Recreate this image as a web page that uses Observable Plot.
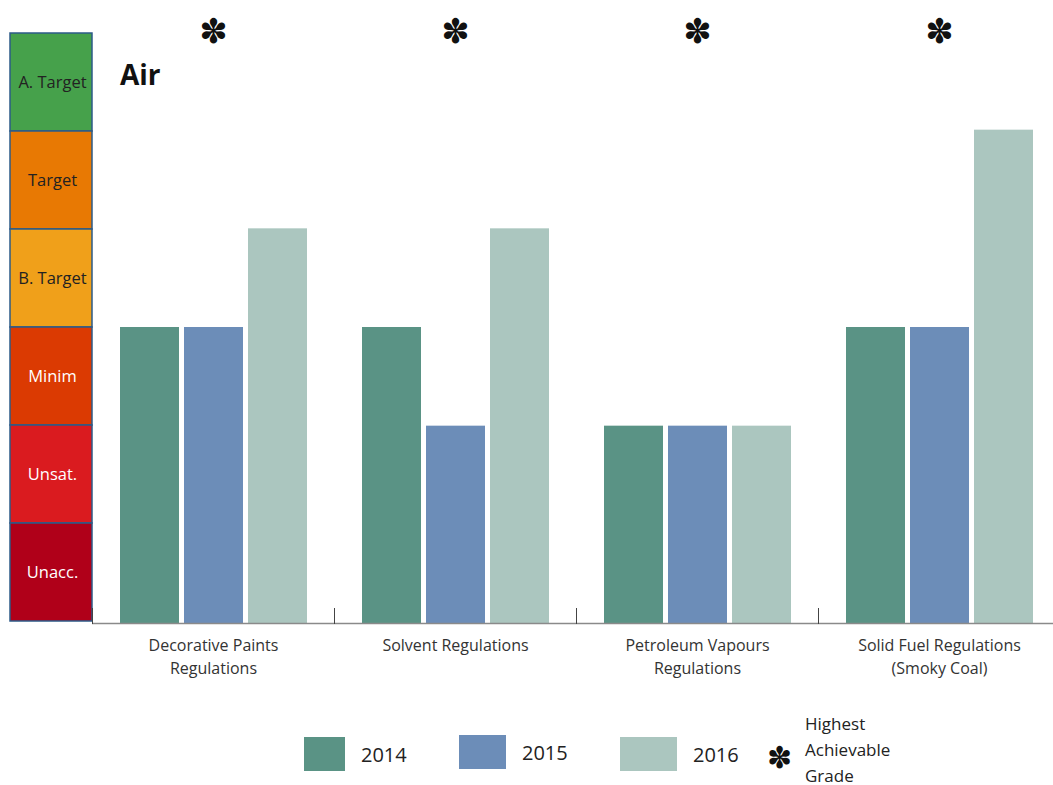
<!DOCTYPE html>
<html>
<head>
<meta charset="utf-8">
<script src="https://cdn.jsdelivr.net/npm/d3@7"></script>
<script src="https://cdn.jsdelivr.net/npm/@observablehq/plot@0.6"></script>
<style>
  html, body { margin: 0; padding: 0; background: #fff; }
  body { width: 1053px; height: 785px; overflow: hidden; position: relative; font-family: "Open Sans", sans-serif; color: #222; }
  #row { position: absolute; left: 0; top: 0; display: flex; align-items: flex-start; width: 1100px; }
  #row > svg { flex: 0 0 auto; max-width: none; }
  #title { position: absolute; left: 120px; top: 55px; font: bold 28px "Open Sans", sans-serif; color: #111; }
  #legend { position: absolute; left: 0; top: 0; width: 1053px; height: 785px; pointer-events: none; }
  .item { position: absolute; display: flex; align-items: center; font-size: 20px; color: #222; }
  .sw { height: 34px; margin-right: 16px; }
  .star { position: absolute; font: 30px "DejaVu Sans", sans-serif; color: #111; }
  .note { position: absolute; font-size: 17px; line-height: 26px; color: #222; }
</style>
</head>
<body>
<div id="row"></div>
<div id="title">Air</div>
<div id="legend"></div>
<script>
// Grade scale, best grade first
const grades = ["A. Target", "Target", "B. Target", "Minim", "Unsat.", "Unacc."];
const gradeColors = ["#46a14b", "#e87903", "#f0a01a", "#db3a02", "#da1b1f", "#b00019"];
const gradeInk = ["#222", "#222", "#222", "#fff", "#fff", "#fff"];

// Regulations and yearly grades (0 = bottom of "Unacc.", 6 = top of "A. Target")
const categories = [
  "Decorative Paints\nRegulations",
  "Solvent Regulations",
  "Petroleum Vapours\nRegulations",
  "Solid Fuel Regulations\n(Smoky Coal)"
];
const years = ["2014", "2015", "2016"];
const yearColors = ["#5a9385", "#6c8db8", "#abc6bf"];
const grade2014 = [3, 3, 2, 3];
const grade2015 = [3, 2, 2, 3];
const grade2016 = [4, 4, 2, 5];
const highestAchievable = [6, 6, 6, 6];

const STAR = "\u273D";

const gradeRows = grades.map((g, i) => ({grade: g, color: gradeColors[i], ink: gradeInk[i]}));
const series = [grade2014, grade2015, grade2016];
const bars = categories.flatMap((c, i) => years.map((y, j) => ({category: c, year: y, grade: series[j][i]})));
const stars = categories.map((c, i) => ({category: c, grade: highestAchievable[i]}));

const H = 683, MT = 31, MB = 60;

// Grade band on the left
const band = Plot.plot({
  width: 92, height: H,
  marginTop: MT, marginBottom: MB, marginLeft: 10, marginRight: 0,
  x: {axis: null},
  y: {domain: grades, padding: 0, axis: null},
  color: {type: "identity"},
  style: {fontFamily: "Open Sans, sans-serif", background: "transparent", overflow: "visible"},
  marks: [
    Plot.cell(gradeRows, {y: "grade", fill: "color", stroke: "#2d5b88", strokeWidth: 1.5}),
    Plot.text(gradeRows, {y: "grade", text: "grade", fill: "ink", fontSize: 16.5, dx: 1})
  ]
});

// Grouped bars
const chart = Plot.plot({
  width: 968, height: H,
  marginTop: MT, marginBottom: MB, marginLeft: 0, marginRight: 0,
  fx: {domain: categories, padding: 0, label: null},
  x: {domain: years, paddingInner: 0.085, paddingOuter: 0.418, axis: null},
  y: {domain: [0, 6], axis: null},
  color: {domain: years, range: yearColors},
  style: {fontFamily: "Open Sans, sans-serif", background: "transparent", color: "#333", overflow: "visible"},
  marks: [
    Plot.barY(bars, {fx: "category", x: "year", y: "grade", fill: "year"}),
    Plot.ruleY([0], {stroke: "#8a8a8a", strokeWidth: 1.5}),
    Plot.frame({anchor: "left", insetTop: H - MT - MB - 15, stroke: "#444", strokeWidth: 1}),
    Plot.text(stars, {fx: "category", y: "grade", text: () => STAR, fontSize: 34, fill: "#111", fontFamily: "DejaVu Sans", dy: 1}),
    Plot.axisFx({anchor: "bottom", tickSize: 0, tickPadding: 12, fontSize: 16, lineHeight: 1.4, label: null, fill: "#333"})
  ]
});

const row = document.getElementById("row");
row.append(band, chart);

// Legend
const legend = document.getElementById("legend");
const swatchWidths = [41, 47, 57];
const itemLeft = [304, 459, 620];
const itemTop = [737, 735, 737];
years.forEach((y, i) => {
  const item = document.createElement("div");
  item.className = "item";
  item.style.left = itemLeft[i] + "px";
  item.style.top = itemTop[i] + "px";
  const sw = document.createElement("div");
  sw.className = "sw";
  sw.style.width = swatchWidths[i] + "px";
  sw.style.background = yearColors[i];
  const t = document.createElement("span");
  t.textContent = y;
  item.append(sw, t);
  legend.append(item);
});
const star = document.createElement("div");
star.className = "star";
star.style.left = "767px";
star.style.top = "740px";
star.textContent = STAR;
legend.append(star);
const note = document.createElement("div");
note.className = "note";
note.style.left = "805px";
note.style.top = "711px";
note.innerHTML = "Highest<br>Achievable<br>Grade";
legend.append(note);
</script>
</body>
</html>
